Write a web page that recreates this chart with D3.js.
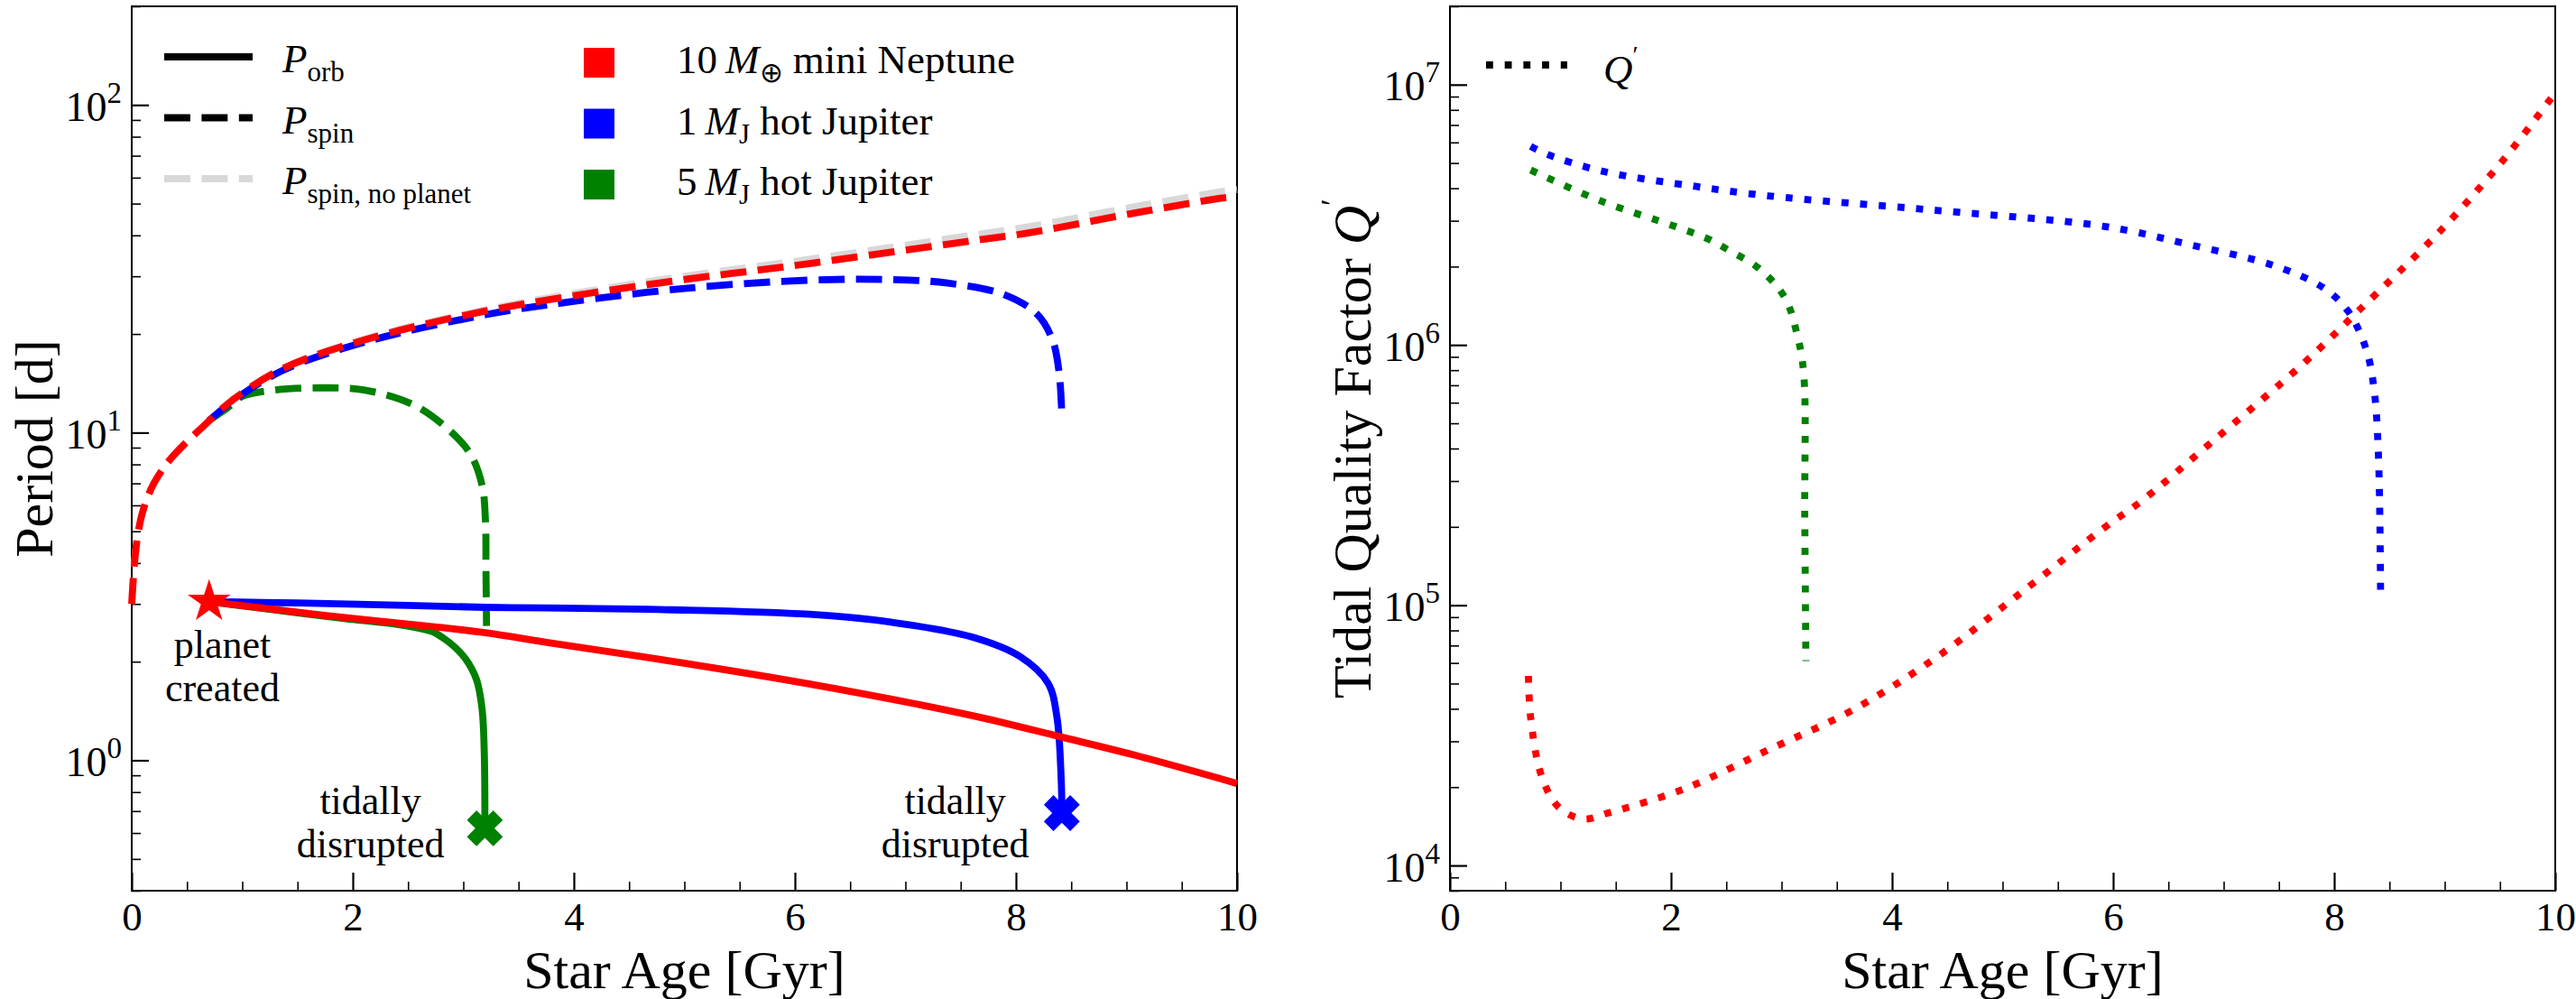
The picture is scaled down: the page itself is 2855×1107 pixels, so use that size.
<!DOCTYPE html>
<html>
<head>
<meta charset="utf-8">
<script src="https://cdn.jsdelivr.net/npm/d3@7/dist/d3.min.js"></script>
<style>
  body { margin: 0; background: #fff; }
  svg { display: block; }
</style>
</head>
<body>
<div id="chart"></div>
<script>
// ---- values: [star age (Gyr), value] ----
// spin periods [d]
const spinNoPlanet = [[0,3.0],[0.025,4.0],[0.06,5.0],[0.11,5.9],[0.2,7.0],[0.35,8.3],[0.64,10.4],[0.93,12.7],[1.37,15.7],[2.11,19.3],[3.2,23.7],[4.67,28.9],[6.13,33.8],[7.6,40.0],[8.1,42.4],[9.06,48.8],[9.85,54.3],[10,55.2]];
const spinNeptune = [[0,3.0],[0.025,4.0],[0.06,5.0],[0.11,5.9],[0.2,7.0],[0.35,8.3],[0.64,10.4],[0.93,12.7],[1.37,15.7],[2.11,19.2],[3.2,23.5],[4.67,28.3],[6.13,32.8],[7.6,38.5],[8.1,40.6],[9.06,46.7],[9.85,51.9],[10,52.6]];
const spinJupiter1 = [[0.7,10.9],[0.93,12.6],[1.37,15.5],[2.11,18.9],[3.2,22.9],[3.94,25.0],[5.03,27.6],[6.13,29.2],[6.87,29.3],[7.38,28.6],[7.89,26.4],[8.19,23.0],[8.33,19.2],[8.39,15.3],[8.415,11.3]];
const spinJupiter5 = [[0.7,10.9],[0.88,12.0],[1.0,12.9],[1.3,13.5],[1.7,13.7],[2.1,13.5],[2.54,12.2],[2.84,10.4],[3.06,8.65],[3.17,6.9],[3.2,5.4],[3.205,3.8],[3.21,2.57]];
// orbital periods [d]
const orbNeptune = [[0.7,3.05],[1.74,2.77],[2.72,2.56],[3.2,2.45],[3.755,2.29],[4.67,2.06],[6.13,1.71],[7.6,1.37],[8.4,1.18],[9.06,1.04],[10,0.85]];
const orbJupiter1 = [[0.7,3.05],[1.5,3.02],[2.5,2.97],[3.2,2.93],[3.75,2.92],[4.67,2.89],[6.13,2.79],[6.87,2.64],[7.6,2.38],[8.04,2.07],[8.29,1.72],[8.37,1.36],[8.41,0.86],[8.415,0.69]];
const orbJupiter5 = [[0.7,3.05],[1.5,2.82],[2.0,2.69],[2.4,2.6],[2.6,2.53],[2.72,2.47],[2.82,2.36],[2.92,2.22],[3.02,2.04],[3.12,1.76],[3.17,1.43],[3.19,1.04],[3.195,0.62]];
// tidal quality factor Q'
const qNeptune = [[0.71,5.35e4],[0.73,3.7e4],[0.83,2.2e4],[0.98,1.68e4],[1.2,1.51e4],[1.45,1.6e4],[2.12,1.97e4],[2.88,2.78e4],[3.64,3.95e4],[4.4,6.3e4],[5.17,1.12e5],[5.93,2.0e5],[6.25,2.5e5],[6.91,4.3e5],[7.71,8.4e5],[8.21,1.34e6],[8.97,2.77e6],[9.54,5.2e6],[10,9.3e6]];
const qJupiter1 = [[0.73,5.8e6],[0.88,5.4e6],[1.38,4.65e6],[2.23,4.06e6],[2.88,3.74e6],[4.4,3.29e6],[5.93,2.85e6],[6.69,2.43e6],[7.45,2.02e6],[7.9,1.66e6],[8.13,1.34e6],[8.29,9.6e5],[8.36,6.8e5],[8.4,3.8e5],[8.42,1.07e5]];
const qJupiter5 = [[0.73,4.7e6],[1.36,3.58e6],[2.04,2.85e6],[2.34,2.55e6],[2.5,2.34e6],[2.8,1.96e6],[3.03,1.52e6],[3.14,1.1e6],[3.2,7.8e5],[3.21,2.2e5],[3.22,6.1e4]];
// event markers [age, period]
const planetCreated = [0.7, 3.05];
const disrupted = [[3.195, 0.62], [8.415, 0.69]];
// annotation anchors [age, period of first baseline]
const notes = [
  { at: [0.82, 2.06], lines: ['planet', 'created'] },
  { at: [2.16, 0.686], lines: ['tidally', 'disrupted'] },
  { at: [7.45, 0.686], lines: ['tidally', 'disrupted'] }
];

const FONT = '"Liberation Serif", "Times New Roman", serif';
const RED = '#ff0000', BLUE = '#0000ff', GREEN = '#008000', GREY = '#d8d8d8';
const LW = 7.8;
const DASH = '28.9 12.5', DOT = '7.8 12.9';

const W = 2855, H = 1107;
const svg = d3.select('#chart').append('svg').attr('width', W).attr('height', H)
  .attr('font-family', FONT);

const pw = 1225, ph = 980, padTop = 7;
const x = d3.scaleLinear().domain([0, 10]).range([0, pw]);
const yP = d3.scaleLog().domain([0.4, 200]).range([ph, 0]);
const yQ = d3.scaleLog().domain([8e3, 2e7]).range([ph, 0]);

// draws text made of plain / italic / sub / sup pieces
function richText(text, parts, small, subDy, supDy) {
  text.attr('font-family', FONT);
  let cur = 0;
  for (const [str, kind] of parts) {
    const ts = text.append('tspan').text(str);
    const target = kind === 'sub' ? subDy : kind === 'sup' ? supDy : 0;
    if (target !== cur) { ts.attr('dy', target - cur); cur = target; }
    if (kind === 'i') ts.attr('font-style', 'italic');
    if (kind === 'sub' || kind === 'sup') ts.attr('font-size', small);
  }
}

function frame(g, y, ylabelParts) {
  // x axis: major every 2 Gyr, minor every 0.5
  const xMaj = x.ticks(5), xMin = x.ticks(20).filter(d => !xMaj.includes(d));
  g.append('g').attr('transform', `translate(0,${ph})`)
    .call(d3.axisBottom(x).tickValues(xMin).tickSize(-10).tickFormat(() => ''))
    .call(a => a.select('.domain').remove())
    .selectAll('line').attr('stroke-width', 1.6);
  const gx = g.append('g').attr('transform', `translate(0,${ph})`)
    .call(d3.axisBottom(x).tickValues(xMaj).tickSize(-20).tickFormat(d3.format('d')))
    .call(a => a.select('.domain').remove());
  gx.attr('font-family', FONT).attr('font-size', 45);
  gx.selectAll('line').attr('stroke-width', 2.2);
  gx.selectAll('text').attr('y', 44).attr('dy', null);

  // log y axis: decades labelled 10^n
  const all = y.ticks();
  const yMaj = all.filter(d => Math.abs(Math.log10(d) - Math.round(Math.log10(d))) < 1e-6);
  const yMin = all.filter(d => !yMaj.includes(d));
  g.append('g')
    .call(d3.axisLeft(y).tickValues(yMin).tickSize(-10).tickFormat(() => ''))
    .call(a => a.select('.domain').remove())
    .selectAll('line').attr('stroke-width', 1.6);
  const gy = g.append('g')
    .call(d3.axisLeft(y).tickValues(yMaj).tickSize(-19).tickPadding(11).tickFormat(() => ''))
    .call(a => a.select('.domain').remove());
  gy.attr('font-family', FONT).attr('font-size', 46);
  gy.selectAll('line').attr('stroke-width', 2.2);
  gy.selectAll('.tick text').attr('dy', 17).each(function (d) {
    richText(d3.select(this), [['10', ''], [String(Math.round(Math.log10(d))), 'sup']], 33, 0, -20);
  });

  g.append('rect').attr('width', pw).attr('height', ph)
    .attr('fill', 'none').attr('stroke', '#000').attr('stroke-width', 2);

  g.append('text').attr('x', pw / 2).attr('y', 1095 - padTop).attr('font-family', FONT)
    .attr('text-anchor', 'middle').attr('font-size', 60).text('Star Age [Gyr]');
  const yl = g.append('text').attr('transform', `translate(-88,${ph / 2}) rotate(-90)`)
    .attr('text-anchor', 'middle').attr('font-size', 60);
  richText(yl, ylabelParts, 36, 0, -30);
}

const line = y => d3.line().x(d => x(d[0])).y(d => y(d[1])).curve(d3.curveCatmullRom.alpha(0.5));

function path(g, data, y, color, dash) {
  g.append('path').datum(data).attr('d', line(y))
    .attr('fill', 'none').attr('stroke', color).attr('stroke-width', LW)
    .attr('stroke-linecap', 'butt').attr('stroke-dasharray', dash);
}

// ---------------- left panel: periods ----------------
const gL = svg.append('g').attr('transform', `translate(146,${padTop})`);
frame(gL, yP, [['Period [d]', '']]);

path(gL, spinNoPlanet, yP, GREY, DASH);
path(gL, spinJupiter5, yP, GREEN, DASH);
path(gL, spinJupiter1, yP, BLUE, DASH);
path(gL, spinNeptune, yP, RED, DASH);
path(gL, orbJupiter5, yP, GREEN, null);
path(gL, orbJupiter1, yP, BLUE, null);
path(gL, orbNeptune, yP, RED, null);

gL.append('path')
  .attr('transform', `translate(${x(planetCreated[0])},${yP(planetCreated[1])})`)
  .attr('d', d3.symbol(d3.symbolStar, 25 * 25 / 0.8908130915))
  .attr('fill', RED);

// filled "X" marker, s = full width
const xMarker = {
  draw(ctx, size) {
    const s = Math.sqrt(size);
    const pts = [[-0.25,-0.5],[0,-0.25],[0.25,-0.5],[0.5,-0.25],[0.25,0],[0.5,0.25],[0.25,0.5],[0,0.25],[-0.25,0.5],[-0.5,0.25],[-0.25,0],[-0.5,-0.25]];
    pts.forEach((p, i) => i ? ctx.lineTo(p[0] * s, p[1] * s) : ctx.moveTo(p[0] * s, p[1] * s));
    ctx.closePath();
  }
};
gL.selectAll('.xmark').data(disrupted).join('path')
  .attr('transform', d => `translate(${x(d[0])},${yP(d[1])})`)
  .attr('d', d3.symbol(xMarker, 37 * 37))
  .attr('fill', (d, i) => [GREEN, BLUE][i])
  .attr('stroke', (d, i) => [GREEN, BLUE][i]).attr('stroke-width', 2);

notes.forEach(n => {
  const t = gL.append('text').attr('font-size', 44).attr('font-family', FONT).attr('text-anchor', 'middle');
  n.lines.forEach((s, i) => t.append('tspan')
    .attr('x', x(n.at[0])).attr('y', yP(n.at[1]) + i * 48).text(s));
});

// legend (line styles)
const styleLegend = [
  { parts: [['P', 'i'], ['orb', 'sub']], color: '#000', dash: null },
  { parts: [['P', 'i'], ['spin', 'sub']], color: '#000', dash: DASH },
  { parts: [['P', 'i'], ['spin, no planet', 'sub']], color: GREY, dash: DASH }
];
const planetLegend = [
  { parts: [['10\u2009', ''], ['M', 'i'], ['\u2295', 'sub'], [' mini Neptune', '']], color: RED },
  { parts: [['1\u2009', ''], ['M', 'i'], ['J', 'sub'], [' hot Jupiter', '']], color: BLUE },
  { parts: [['5\u2009', ''], ['M', 'i'], ['J', 'sub'], [' hot Jupiter', '']], color: GREEN }
];
const rowY = i => 56 + i * 67.5;
styleLegend.forEach((e, i) => {
  gL.append('line').attr('x1', 36).attr('x2', 134).attr('y1', rowY(i)).attr('y2', rowY(i))
    .attr('stroke', e.color).attr('stroke-width', LW).attr('stroke-dasharray', e.dash);
  const t = gL.append('text').attr('x', 167).attr('y', rowY(i) + 17).attr('font-size', 45);
  richText(t, e.parts, 31, 10, 0);
});
planetLegend.forEach((e, i) => {
  gL.append('rect').attr('x', 501).attr('y', rowY(i) - 10).attr('width', 34).attr('height', 33)
    .attr('fill', e.color);
  const t = gL.append('text').attr('x', 604).attr('y', rowY(i) + 18).attr('font-size', 45);
  richText(t, e.parts, 31, 10, 0);
});

// ---------------- right panel: Q' ----------------
const gR = svg.append('g').attr('transform', `translate(1607,${padTop})`);
frame(gR, yQ, [['Tidal Quality Factor ', ''], ['Q', 'i'], ['\u2032', 'sup']]);

path(gR, qJupiter5, yQ, GREEN, DOT);
path(gR, qNeptune, yQ, RED, DOT);
path(gR, qJupiter1, yQ, BLUE, DOT);

gR.append('line').attr('x1', 40).attr('x2', 130).attr('y1', 65).attr('y2', 65)
  .attr('stroke', '#000').attr('stroke-width', LW).attr('stroke-dasharray', DOT);
const tq = gR.append('text').attr('x', 170).attr('y', 85).attr('font-size', 45);
richText(tq, [['Q', 'i'], ['\u2032', 'sup']], 28, 0, -22);
</script>
</body>
</html>
